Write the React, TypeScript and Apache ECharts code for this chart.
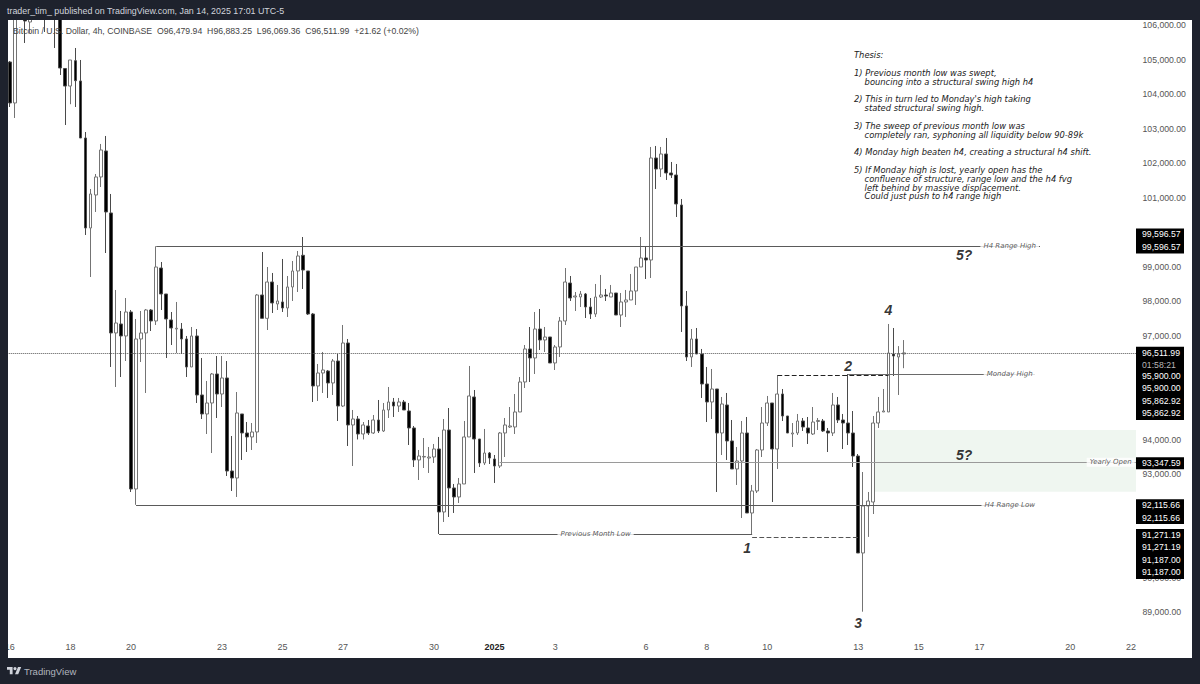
import { useEffect, useRef } from "react";
import * as echarts from "echarts";

// [open, close, low, high], one row per 4h bar
const candleRows: number[][] = [
  [104929, 103743, 103627, 104958], [103743, 106400, 103309, 106900], [106400, 106700, 106250, 107000], [106600, 106115, 105479, 106800],
  [106086, 106500, 105768, 106900], [106500, 106800, 106250, 107100], [106800, 106500, 106200, 107200], [106600, 106300, 105797, 106900],
  [106300, 106600, 106200, 106900], [106600, 106250, 105334, 106800], [106250, 104755, 104553, 106500], [104741, 104233, 103106, 104755],
  [104233, 104987, 103707, 104987], [104967, 104388, 103627, 105334], [104379, 102730, 102730, 104987], [102730, 100126, 99923, 102903],
  [100126, 101110, 98708, 101254], [101081, 101602, 100589, 101688], [101602, 102383, 101312, 102557], [102354, 100589, 99402, 102788],
  [100560, 97088, 96104, 101110], [97088, 97377, 95525, 98332], [97348, 97001, 95814, 97724], [97001, 97695, 96277, 98100],
  [97695, 92574, 92487, 97753], [92574, 96914, 92115.66, 97493], [96914, 97088, 96248, 97724], [97088, 97753, 95352, 97782],
  [97753, 97435, 97145, 97782], [97435, 98997, 97319, 99596.57], [98968, 98216, 97753, 99142], [98216, 97493, 96364, 98216],
  [97464, 97232, 96740, 97695], [97203, 97225, 96509, 97985], [97203, 96914, 96480, 97377], [96914, 96104, 95814, 97001],
  [96104, 97001, 96104, 97261], [97001, 95294, 95062, 97203], [95294, 94744, 94599, 96364], [94744, 95062, 94165, 95699],
  [95062, 95901, 93615, 95930], [95901, 95322, 94628, 96422], [95322, 95786, 94946, 96422], [95786, 93094, 92950, 96277],
  [93094, 92892, 92516, 94107], [92892, 94773, 92342, 95380], [94744, 94194, 93413, 94744], [94194, 94079, 93644, 94512],
  [94079, 94223, 93702, 94483], [94223, 98187, 93905, 98216], [98187, 97512, 97512, 99431], [97512, 98563, 97174, 98997],
  [98563, 97956, 97666, 98824], [97927, 98014, 97753, 98477], [97985, 97811, 97695, 99229], [97811, 98419, 97551, 98737],
  [98419, 98882, 98014, 99171], [98882, 99316, 98274, 99460], [99336, 98910, 98361, 99865], [98882, 97637, 97608, 98882],
  [97637, 95554, 95091, 97666], [95554, 95930, 95120, 96191], [95930, 96017, 95352, 96538], [95988, 95641, 95207, 96017],
  [95641, 96277, 95294, 96335], [96277, 94975, 94541, 96480], [94975, 96798, 94946, 97319], [96798, 94426, 93818, 96914],
  [94426, 94599, 93239, 94860], [94599, 94165, 94007, 94686], [94165, 94426, 94007, 94512], [94397, 94194, 94136, 94570],
  [94194, 94570, 94165, 94715], [94570, 94252, 94194, 95149], [94252, 94860, 94223, 95062], [94860, 95091, 94628, 95525],
  [95091, 94975, 94657, 95207], [94975, 95091, 94802, 95207], [95091, 94860, 94860, 95149], [94831, 94339, 93847, 95062],
  [94339, 93413, 93210, 94397], [93413, 93528, 92834, 93702], [93499, 93515, 93181, 94049], [93470, 93499, 93037, 93789],
  [93499, 93731, 93326, 93876], [93731, 91908, 91271.19, 94079], [91908, 94281, 91619, 94599], [94281, 92603, 91764, 94917],
  [92603, 92342, 91880, 92719], [92342, 92719, 92169, 92892], [92719, 94079, 92719, 94541], [94079, 95265, 94079, 96133],
  [95236, 94020, 93037, 95438], [94020, 93326, 93210, 94020], [93326, 93615, 93268, 94310], [93615, 93470, 93297, 93644],
  [93441, 93239, 92748, 93557], [93239, 94194, 93181, 94223], [94194, 94426, 93499, 94628], [94368, 94397, 94339, 94946],
  [94368, 94802, 94165, 95322], [94802, 95670, 94802, 95814], [95670, 96625, 95496, 96740], [96625, 96364, 95670, 97261],
  [96364, 97203, 95901, 97695], [97203, 96885, 96596, 97782], [96885, 96972, 96538, 97261], [96972, 96220, 96220, 96972],
  [96220, 96683, 96017, 96740], [96683, 97435, 96393, 97551], [97435, 98563, 97319, 98968], [98534, 98100, 98014, 98737],
  [98129, 98158, 97724, 98274], [98129, 98216, 97840, 98303], [98216, 97840, 97521, 98245], [97840, 97637, 97493, 98100],
  [97637, 98129, 97551, 98506], [98129, 98187, 98100, 98766], [98187, 98158, 98014, 98361], [98129, 98245, 98129, 98477],
  [98245, 97608, 97608, 98245], [97608, 97985, 97261, 98245], [97985, 98043, 97551, 98332], [98043, 98303, 98043, 98795],
  [98303, 98997, 97898, 98997], [98997, 99258, 98997, 99865], [99258, 99200, 98650, 99576], [99200, 102151, 98679, 102470],
  [102151, 101833, 101254, 102499], [101833, 102267, 101602, 102470], [102267, 101717, 101515, 102730], [101717, 101659, 101573, 102036],
  [101659, 100820, 100444, 101978], [100791, 97869, 97117, 100965], [97869, 96393, 96277, 98303], [96393, 96914, 96104, 97203],
  [96914, 96480, 96480, 97232], [96480, 95612, 95207, 96625], [95612, 95091, 94512, 96104], [95091, 95467, 94599, 96046],
  [95467, 94194, 92487, 95467], [94194, 95033, 93557, 95236], [95004, 93963, 93413, 95352], [93963, 93153, 93153, 94570],
  [93153, 93384, 92690, 93789], [93384, 94194, 91734, 94541], [94194, 91879, 91879, 94657], [91879, 92516, 91271.19, 92690],
  [92516, 93702, 92458, 93731], [93702, 94483, 93499, 94946], [94483, 95062, 94397, 95265], [95062, 93731, 92197, 95062],
  [93731, 95322, 93153, 95862.92], [95322, 94686, 94541, 95467], [94686, 94194, 94194, 94686], [94165, 94194, 93789, 94483],
  [94194, 94541, 94136, 94744], [94541, 94368, 94252, 94628], [94339, 94194, 93876, 94657], [94165, 94512, 94136, 94946],
  [94527, 94556, 94281, 94628], [94541, 94252, 94223, 94599], [94252, 94194, 93644, 94339], [94194, 95004, 94107, 95352],
  [95004, 94570, 94483, 95236], [94570, 94483, 93731, 94744], [94483, 94194, 93847, 95900], [94194, 93528, 93210, 94830],
  [93528, 90722, 90722, 93586], [90722, 92082, 89023, 93065], [92082, 92226, 91187, 92487], [92197, 94483, 91850, 94686],
  [94483, 94802, 94339, 95236], [94802, 94831, 94802, 95467], [94802, 96509, 94802, 97348], [96480, 96422, 95843, 97232],
  [96393, 96480, 95294, 96708], [96479.94, 96511.99, 96069.36, 96883.25],
];

const decDays = [16, 17, 18, 19, 20, 21, 22, 23, 24, 25, 26, 27, 28, 29, 30, 31];
const janDays = [1, 2, 3, 4, 5, 6, 7, 8, 9, 10, 11, 12, 13, 14, 15, 16, 17, 18, 19, 20, 21, 22];
const barHours = ["00", "04", "08", "12", "16", "20"];
const timeTicks: Record<string, string> = {
  "Dec 16": "16", "Dec 18": "18", "Dec 20": "20", "Dec 23": "23", "Dec 25": "25", "Dec 27": "27", "Dec 30": "30",
  "Jan 1": "2025", "Jan 3": "3", "Jan 6": "6", "Jan 8": "8", "Jan 10": "10", "Jan 13": "13", "Jan 15": "15",
  "Jan 17": "17", "Jan 20": "20", "Jan 22": "22",
};
// the rest of the round thousands sit fully behind the price tags
const priceTicks = [89000, 90000, 93000, 94000, 97000, 98000, 99000, 101000, 102000, 103000, 104000, 105000, 106000];

// drawn levels
const rangeHigh = 99596.57;
const rangeLow = 92115.66;
const mondayHigh = 95900;
const mondayDash = 95862.92;
const yearlyOpen = 93347.59;
const monthLow = 91271.19;
const monthLowDash = 91187;
const lastPrice = 96511.99;
const fvgZone = [94281, 92495];

const headerText = "trader_tim_ published on TradingView.com, Jan 14, 2025 17:01 UTC-5";
const legendText = "Bitcoin / U.S. Dollar, 4h, COINBASE  O96,479.94  H96,883.25  L96,069.36  C96,511.99  +21.62 (+0.02%)";
const thesisLines = [
  "Thesis:",
  "",
  "1) Previous month low was swept,",
  "    bouncing into a structural swing high h4",
  "",
  "2) This in turn led to Monday's high taking",
  "    stated structural swing high.",
  "",
  "3) The sweep of previous month low was",
  "    completely ran, syphoning all liquidity below 90-89k",
  "",
  "4) Monday high beaten h4, creating a structural h4 shift.",
  "",
  "5) If Monday high is lost, yearly open has the",
  "    confluence of structure, range low and the h4 fvg",
  "    left behind by massive displacement.",
  "    Could just push to h4 range high",
];
const noteMarks: [string, number, number][] = [
  ["1", 146, 90866],
  ["2", 166, 96133],
  ["3", 168, 88697],
  ["4", 174, 97753],
  ["5?", 189, 99344],
  ["5?", 189, 93558],
];
const levelNames: [string, number, number][] = [
  ["H4 Range High", 198, rangeHigh],
  ["Monday High", 198, mondayHigh],
  ["Yearly Open", 218, yearlyOpen],
  ["H4 Range Low", 198, rangeLow],
  ["Previous Month Low", 116, monthLow],
];
const priceTagTexts = [
  ["99,596.57", "99,596.57"],
  ["96,511.99", "01:58:21", "95,900.00", "95,900.00", "95,862.92", "95,862.92"],
  ["93,347.59"],
  ["92,115.66", "92,115.66"],
  ["91,271.19", "91,271.19", "91,187.00", "91,187.00"],
];

const logoPath = "M14 22H7V11H0V4h14v18zM28 22h-8l7.5-18h8L28 22zM20 4a4 4 0 1 1 0 8a4 4 0 1 1 0-8z";

const DARK = "#1e222d";
const categories = [...decDays.map((d) => `Dec ${d}`), ...janDays.map((d) => `Jan ${d}`)]
  .flatMap((day) => barHours.map((h) => `${day} ${h}:00`))
  .slice(0, 224);

const level = (price: number, from: number, to: number, color: string, type = "solid") => [
  { coord: [from, price], lineStyle: { color, type, width: 1.2 } },
  { coord: [to, price] },
];

const uiText = (text: string, x: number, y: number, size: number, fill: string, extra: object = {}) => ({
  type: "text",
  x,
  y,
  z: 102,
  silent: true,
  style: { text, fill, fontSize: size, fontFamily: "Liberation Sans", verticalAlign: "middle", textVerticalAlign: "middle", ...extra },
});

export default function App() {
  const ref = useRef<HTMLDivElement | null>(null);

  useEffect(() => {
    if (!ref.current) return;
    echarts.graphic.registerShape("logo", echarts.graphic.extendPath(logoPath, {}));
    const chart = echarts.init(ref.current, null, { renderer: "svg" });

    // layout of the price tags on the right, one box per group
    const tagBoxes = [
      { top: 228.5, bottom: 253.5, lines: [234, 246.7] },
      { top: 346.7, bottom: 420, lines: [353, 364.5, 375.7, 388, 400.7, 413] },
      { top: 457.3, bottom: 469.3, lines: [463] },
      { top: 499.3, bottom: 524, lines: [505.3, 518] },
      { top: 529, bottom: 579, lines: [534.5, 547, 559.7, 572] },
    ];

    const tags = tagBoxes.flatMap((box, b) => [
      { type: "rect", z: 90, silent: true, shape: { x: 1136, y: box.top, width: 48, height: box.bottom - box.top }, style: { fill: "#000" } },
      ...box.lines.map((y, l) => ({
        ...uiText(priceTagTexts[b][l], 1142, y, 8.7, priceTagTexts[b][l] === "01:58:21" ? "#b8b8b8" : "#fff"),
        z: 91,
      })),
    ]);

    const frame = [
      [0, 0, 1200, 20],
      [0, 0, 8, 684],
      [1192, 0, 8, 684],
      [0, 658, 1200, 26],
    ].map(([x, y, width, height]) => ({
      type: "rect",
      z: 100,
      silent: true,
      shape: { x, y, width, height },
      style: { fill: DARK },
    }));

    chart.setOption({
      animation: false,
      backgroundColor: "#fff",
      grid: { left: 7.27, top: 20, width: 1131.2, height: 617 },
      xAxis: {
        type: "category",
        data: categories,
        axisLine: { show: false },
        axisTick: { show: false },
        splitLine: { show: false },
        axisLabel: {
          margin: 5,
          hideOverlap: false,
          interval: (_: number, value: string) =>
            value.endsWith(" 00:00") && value.replace(" 00:00", "") in timeTicks,
          formatter: (value: string) => {
            const text = timeTicks[value.replace(" 00:00", "")] ?? "";
            return text === "2025" ? "{y|2025}" : text;
          },
          color: "#555",
          fontSize: 9,
          fontFamily: "Liberation Sans",
          rich: { y: { fontWeight: "bold", color: "#222", fontSize: 9, fontFamily: "Liberation Sans" } },
        },
      },
      yAxis: {
        type: "value",
        position: "right",
        min: 88291,
        max: 106144,
        axisLine: { show: false },
        axisTick: { show: false },
        splitLine: { show: false },
        axisLabel: {
          customValues: priceTicks,
          margin: 4,
          color: "#555",
          fontSize: 8.7,
          fontFamily: "Liberation Sans",
          formatter: (v: number) => v.toLocaleString("en-US", { minimumFractionDigits: 2 }),
        },
      },
      series: [
        {
          type: "candlestick",
          data: candleRows,
          barWidth: 3.3,
          itemStyle: {
            color: "#fff",
            borderColor: "#747474",
            color0: "#000",
            borderColor0: "#4a4a4a",
            borderWidth: 1,
          },
          markArea: {
            silent: true,
            itemStyle: { color: "#eff6f0" },
            data: [[{ coord: [171, fvgZone[0]] }, { coord: [223, fvgZone[1]] }]],
          },
          markLine: {
            silent: true,
            symbol: ["none", "none"],
            precision: 2,
            label: { show: false },
            data: [
              { yAxis: lastPrice, lineStyle: { color: "#555", type: "dotted", width: 1 } },
              level(rangeHigh, 29, 204, "#5a5a5a"),
              level(mondayHigh, 166, 203, "#6a6a6a"),
              level(mondayDash, 152, 174, "#222", "dashed"),
              level(yearlyOpen, 97, 223, "#9a9a9a"),
              level(rangeLow, 25, 203, "#5a5a5a"),
              level(monthLow, 85, 147, "#5a5a5a"),
              level(monthLowDash, 147, 168, "#555", "dashed"),
            ],
          },
        },
        {
          type: "scatter",
          z: 10,
          symbolSize: 1,
          itemStyle: { color: "transparent" },
          data: levelNames.map(([name, bar, price]) => ({ name, value: [bar, price] })),
          label: {
            show: true,
            position: "inside",
            formatter: "{b}",
            color: "#333",
            fontFamily: "DejaVu Sans",
            fontStyle: "italic",
            fontSize: 7,
            backgroundColor: "#fff",
            padding: [1, 3],
          },
        },
        {
          type: "scatter",
          z: 10,
          symbolSize: 1,
          itemStyle: { color: "transparent" },
          data: noteMarks.map(([name, bar, price]) => ({ name, value: [bar, price] })),
          label: {
            show: true,
            position: "inside",
            formatter: "{b}",
            color: "#000",
            fontSize: 14,
            fontWeight: "bold",
            fontStyle: "italic",
            fontFamily: "Liberation Sans",
          },
        },
      ],
      graphic: [
        ...tags,
        ...frame,
        uiText(headerText, 7, 10.5, 8.9, "#d1d4dc"),
        uiText(legendText, 13, 30.5, 8.7, "#444", { whiteSpace: "pre" }),
        {
          ...uiText(thesisLines.join("\n"), 854, 54, 8.35, "#222", {
            fontFamily: "DejaVu Sans",
            fontStyle: "italic",
            lineHeight: 8.84,
            verticalAlign: "top",
            textVerticalAlign: "top",
          }),
          z: 60,
          y: 50.6,
        },
        {
          type: "logo",
          x: 7,
          y: 665.4,
          scaleX: 0.4,
          scaleY: 0.4,
          z: 102,
          silent: true,
          style: { fill: "#d1d4dc" },
        },
        uiText("TradingView", 24, 671, 9.5, "#b2b5be"),
      ],
    });

    return () => chart.dispose();
  }, []);

  return <div ref={ref} style={{ position: "fixed", left: 0, top: 0, width: 1200, height: 684 }} />;
}
